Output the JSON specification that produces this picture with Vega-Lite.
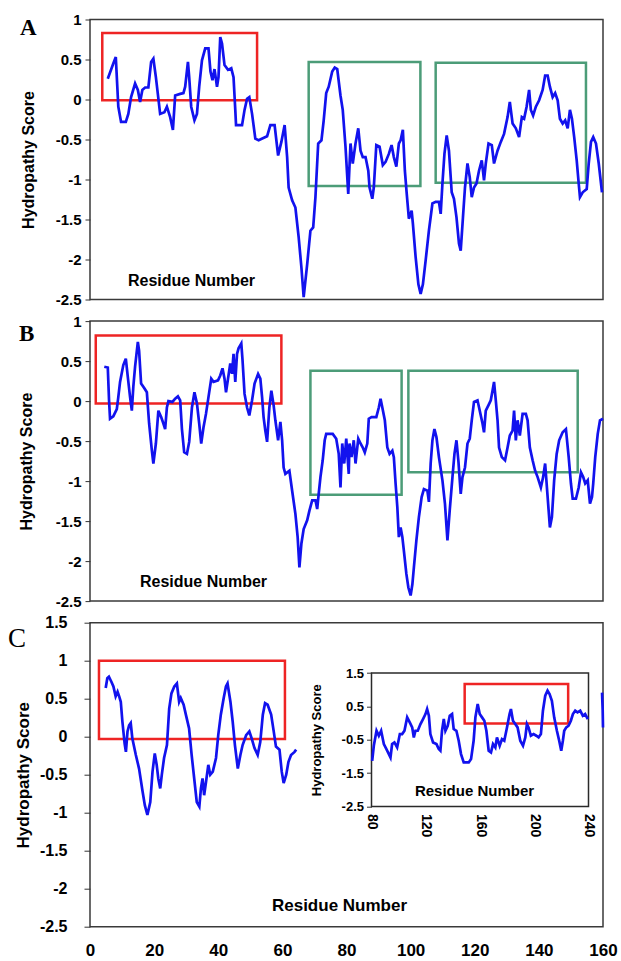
{
  "$schema": "https://vega.github.io/schema/vega-lite/v6.json",
  "autosize": {"type": "none"},
  "padding": {"left": 90, "top": 19.5, "right": 531, "bottom": 941.5},
  "background": "white",
  "config": {
    "font": "Liberation Sans",
    "view": {"stroke": "#3a3a3a", "strokeWidth": 1.5},
    "locale": {"number": {"decimal": ".", "thousands": ",", "grouping": [3], "currency": ["$", ""], "minus": "-"}},
    "axis": {"grid": false, "domain": false, "labelColor": "#000", "titleColor": "#000", "tickColor": "#333", "labelFlush": false, "labelOverlap": false}
  },
  "datasets": {
    "boxes": [
      {"p": "A", "k": "red", "r": 4.9, "r2": 66.7, "v": -0.01, "v2": 0.83},
      {"p": "A", "k": "green", "r": 87.3, "r2": 131.9, "v": -1.08, "v2": 0.47},
      {"p": "A", "k": "green", "r": 138.0, "r2": 198.0, "v": -1.04, "v2": 0.46},
      {"p": "B", "k": "red", "r": 2.3, "r2": 76.4, "v": -0.03, "v2": 0.82},
      {"p": "B", "k": "green", "r": 88.0, "r2": 124.4, "v": -1.17, "v2": 0.38},
      {"p": "B", "k": "green", "r": 127.1, "r2": 194.7, "v": -0.89, "v2": 0.38},
      {"p": "C", "k": "red", "r": 2.8, "r2": 60.8, "v": -0.03, "v2": 1.0},
      {"p": "Cin", "k": "red", "r": 148.7, "r2": 225.0, "v": -0.01, "v2": 1.17}
    ],
    "A": [
      {"r":7.1,"v":0.26},{"r":9.3,"v":0.45},{"r":10.3,"v":0.53},{"r":10.9,"v":0.16},{"r":11.3,"v":-0.09},{"r":12.4,"v":-0.28},{"r":14.3,"v":-0.28},{"r":15.3,"v":-0.18},{"r":16.4,"v":0.03},{"r":18.0,"v":0.20},{"r":19.1,"v":0.12},{"r":20.0,"v":-0.03},{"r":20.9,"v":0.12},{"r":22.0,"v":0.15},{"r":23.3,"v":0.15},{"r":24.4,"v":0.47},{"r":25.3,"v":0.51},{"r":26.3,"v":0.28},{"r":27.3,"v":0.01},{"r":28.0,"v":-0.18},{"r":29.7,"v":-0.16},{"r":30.7,"v":-0.09},{"r":32.0,"v":-0.22},{"r":33.1,"v":-0.38},{"r":34.0,"v":0.05},{"r":36.0,"v":0.07},{"r":37.3,"v":0.08},{"r":38.0,"v":0.16},{"r":39.1,"v":0.47},{"r":39.6,"v":0.28},{"r":40.4,"v":-0.09},{"r":41.7,"v":-0.26},{"r":42.7,"v":-0.18},{"r":43.6,"v":0.16},{"r":44.7,"v":0.49},{"r":46.0,"v":0.64},{"r":47.3,"v":0.64},{"r":48.1,"v":0.35},{"r":48.9,"v":0.24},{"r":49.7,"v":0.38},{"r":50.7,"v":0.16},{"r":51.3,"v":0.28},{"r":52.0,"v":0.78},{"r":52.7,"v":0.70},{"r":53.7,"v":0.43},{"r":55.1,"v":0.37},{"r":56.4,"v":0.39},{"r":57.3,"v":0.28},{"r":58.0,"v":-0.13},{"r":58.3,"v":-0.32},{"r":60.7,"v":-0.32},{"r":61.7,"v":-0.13},{"r":62.7,"v":0.01},{"r":63.6,"v":0.03},{"r":64.7,"v":-0.18},{"r":66.0,"v":-0.49},{"r":67.3,"v":-0.51},{"r":70.7,"v":-0.46},{"r":72.0,"v":-0.32},{"r":73.7,"v":-0.32},{"r":75.1,"v":-0.70},{"r":76.4,"v":-0.53},{"r":77.7,"v":-0.32},{"r":78.7,"v":-0.72},{"r":79.3,"v":-1.10},{"r":80.7,"v":-1.26},{"r":82.0,"v":-1.35},{"r":83.3,"v":-1.72},{"r":84.4,"v":-2.10},{"r":85.3,"v":-2.47},{"r":86.7,"v":-2.06},{"r":88.0,"v":-1.64},{"r":89.1,"v":-1.60},{"r":90.0,"v":-1.22},{"r":91.1,"v":-0.55},{"r":92.4,"v":-0.51},{"r":93.3,"v":-0.26},{"r":94.3,"v":0.08},{"r":95.3,"v":0.16},{"r":96.7,"v":0.35},{"r":97.7,"v":0.40},{"r":98.7,"v":0.38},{"r":100.0,"v":0.05},{"r":100.9,"v":-0.13},{"r":102.0,"v":-0.59},{"r":103.1,"v":-1.18},{"r":104.0,"v":-0.55},{"r":104.9,"v":-0.80},{"r":106.0,"v":-0.55},{"r":107.1,"v":-0.36},{"r":108.0,"v":-0.64},{"r":108.9,"v":-0.72},{"r":110.0,"v":-0.72},{"r":111.1,"v":-0.89},{"r":111.6,"v":-1.10},{"r":112.7,"v":-1.24},{"r":113.3,"v":-1.10},{"r":114.3,"v":-0.57},{"r":115.6,"v":-0.59},{"r":116.9,"v":-0.82},{"r":118.0,"v":-0.78},{"r":119.3,"v":-0.68},{"r":120.4,"v":-0.57},{"r":121.3,"v":-0.72},{"r":122.3,"v":-0.84},{"r":123.3,"v":-0.55},{"r":124.0,"v":-0.51},{"r":124.9,"v":-0.38},{"r":125.7,"v":-0.89},{"r":126.4,"v":-1.16},{"r":127.3,"v":-1.49},{"r":128.4,"v":-1.39},{"r":128.9,"v":-1.55},{"r":130.0,"v":-1.97},{"r":131.1,"v":-2.31},{"r":132.0,"v":-2.43},{"r":132.9,"v":-2.31},{"r":134.0,"v":-2.01},{"r":135.3,"v":-1.64},{"r":136.7,"v":-1.30},{"r":138.0,"v":-1.28},{"r":139.3,"v":-1.28},{"r":140.0,"v":-1.43},{"r":140.7,"v":-1.05},{"r":141.5,"v":-0.68},{"r":142.4,"v":-0.45},{"r":143.3,"v":-0.64},{"r":144.4,"v":-1.16},{"r":145.3,"v":-1.24},{"r":146.3,"v":-1.47},{"r":147.3,"v":-1.80},{"r":148.0,"v":-1.89},{"r":148.9,"v":-1.47},{"r":149.7,"v":-1.10},{"r":150.7,"v":-0.80},{"r":151.6,"v":-0.97},{"r":152.4,"v":-1.22},{"r":153.3,"v":-1.10},{"r":154.3,"v":-1.05},{"r":155.3,"v":-0.89},{"r":156.4,"v":-0.76},{"r":157.3,"v":-1.01},{"r":158.0,"v":-0.80},{"r":159.1,"v":-0.55},{"r":160.4,"v":-0.57},{"r":161.3,"v":-0.80},{"r":162.7,"v":-0.64},{"r":164.0,"v":-0.53},{"r":165.3,"v":-0.43},{"r":166.7,"v":-0.22},{"r":167.6,"v":-0.03},{"r":168.7,"v":-0.30},{"r":170.0,"v":-0.36},{"r":171.3,"v":-0.47},{"r":172.4,"v":-0.22},{"r":173.3,"v":-0.24},{"r":174.3,"v":-0.09},{"r":175.3,"v":0.12},{"r":176.0,"v":-0.13},{"r":176.9,"v":-0.20},{"r":178.0,"v":-0.09},{"r":179.3,"v":-0.01},{"r":180.7,"v":0.12},{"r":181.7,"v":0.30},{"r":182.7,"v":0.30},{"r":183.6,"v":0.16},{"r":184.7,"v":0.03},{"r":185.7,"v":0.08},{"r":186.7,"v":-0.01},{"r":187.6,"v":-0.24},{"r":188.7,"v":-0.30},{"r":189.7,"v":-0.26},{"r":190.7,"v":-0.36},{"r":191.6,"v":-0.13},{"r":192.4,"v":-0.24},{"r":193.3,"v":-0.47},{"r":194.3,"v":-0.76},{"r":195.1,"v":-1.05},{"r":195.6,"v":-1.22},{"r":196.7,"v":-1.16},{"r":198.3,"v":-1.12},{"r":199.1,"v":-0.80},{"r":200.0,"v":-0.53},{"r":200.9,"v":-0.47},{"r":202.0,"v":-0.55},{"r":203.1,"v":-0.80},{"r":204.4,"v":-1.16}
    ],
    "B": [
      {"r":5.7,"v":0.43},{"r":7.1,"v":0.42},{"r":7.6,"v":0.01},{"r":8.0,"v":-0.22},{"r":9.3,"v":-0.19},{"r":10.7,"v":-0.10},{"r":11.3,"v":0.05},{"r":12.0,"v":0.24},{"r":13.3,"v":0.45},{"r":14.3,"v":0.53},{"r":15.1,"v":0.30},{"r":16.0,"v":0.05},{"r":16.7,"v":-0.12},{"r":17.3,"v":0.18},{"r":18.0,"v":0.43},{"r":19.1,"v":0.74},{"r":19.6,"v":0.63},{"r":20.4,"v":0.22},{"r":21.7,"v":0.16},{"r":22.7,"v":0.11},{"r":23.6,"v":-0.28},{"r":24.7,"v":-0.62},{"r":25.3,"v":-0.78},{"r":26.3,"v":-0.53},{"r":27.3,"v":-0.12},{"r":28.4,"v":-0.20},{"r":29.3,"v":-0.28},{"r":30.0,"v":-0.35},{"r":30.7,"v":-0.08},{"r":31.3,"v":0.00},{"r":32.9,"v":-0.01},{"r":34.0,"v":0.03},{"r":35.1,"v":0.06},{"r":36.0,"v":0.01},{"r":36.7,"v":-0.35},{"r":37.6,"v":-0.64},{"r":38.7,"v":-0.66},{"r":39.6,"v":-0.51},{"r":40.7,"v":-0.08},{"r":41.7,"v":0.11},{"r":42.7,"v":-0.03},{"r":43.6,"v":-0.28},{"r":44.4,"v":-0.53},{"r":45.3,"v":-0.33},{"r":46.3,"v":-0.16},{"r":47.3,"v":0.05},{"r":48.4,"v":0.28},{"r":49.3,"v":0.24},{"r":51.1,"v":0.26},{"r":52.0,"v":0.32},{"r":52.9,"v":0.41},{"r":53.7,"v":0.28},{"r":54.3,"v":0.11},{"r":55.1,"v":0.28},{"r":56.0,"v":0.47},{"r":56.7,"v":0.34},{"r":57.3,"v":0.59},{"r":58.0,"v":0.24},{"r":58.7,"v":0.59},{"r":59.3,"v":0.66},{"r":60.4,"v":0.72},{"r":60.9,"v":0.51},{"r":61.7,"v":0.09},{"r":62.7,"v":-0.08},{"r":63.6,"v":-0.18},{"r":64.7,"v":0.01},{"r":65.7,"v":0.22},{"r":67.1,"v":0.34},{"r":68.0,"v":0.28},{"r":68.7,"v":0.05},{"r":69.3,"v":-0.20},{"r":70.0,"v":-0.37},{"r":70.7,"v":-0.51},{"r":71.6,"v":-0.08},{"r":72.4,"v":0.13},{"r":73.3,"v":-0.05},{"r":74.0,"v":-0.24},{"r":75.1,"v":-0.49},{"r":76.0,"v":-0.26},{"r":76.7,"v":-0.49},{"r":77.3,"v":-0.83},{"r":78.0,"v":-0.91},{"r":79.6,"v":-0.87},{"r":80.7,"v":-1.12},{"r":82.0,"v":-1.41},{"r":82.9,"v":-1.70},{"r":83.6,"v":-2.08},{"r":84.4,"v":-1.78},{"r":85.3,"v":-1.60},{"r":86.7,"v":-1.49},{"r":87.6,"v":-1.37},{"r":88.7,"v":-1.24},{"r":90.0,"v":-1.24},{"r":90.7,"v":-1.35},{"r":91.3,"v":-1.16},{"r":92.0,"v":-0.95},{"r":92.9,"v":-0.74},{"r":93.7,"v":-0.49},{"r":94.3,"v":-0.41},{"r":96.9,"v":-0.41},{"r":98.3,"v":-0.47},{"r":99.3,"v":-0.66},{"r":100.0,"v":-1.08},{"r":100.7,"v":-0.53},{"r":101.5,"v":-0.78},{"r":102.3,"v":-0.47},{"r":103.3,"v":-0.91},{"r":103.6,"v":-0.53},{"r":104.4,"v":-0.70},{"r":105.3,"v":-0.49},{"r":106.0,"v":-0.78},{"r":107.1,"v":-0.47},{"r":108.0,"v":-0.53},{"r":108.9,"v":-0.58},{"r":109.7,"v":-0.64},{"r":110.7,"v":-0.53},{"r":111.3,"v":-0.22},{"r":112.4,"v":-0.20},{"r":114.3,"v":-0.20},{"r":115.3,"v":-0.08},{"r":116.0,"v":0.03},{"r":116.7,"v":-0.08},{"r":117.7,"v":-0.24},{"r":118.7,"v":-0.58},{"r":119.6,"v":-0.66},{"r":120.7,"v":-0.62},{"r":121.3,"v":-0.70},{"r":122.0,"v":-1.03},{"r":122.7,"v":-1.33},{"r":123.3,"v":-1.70},{"r":124.0,"v":-1.58},{"r":124.7,"v":-1.70},{"r":125.3,"v":-1.87},{"r":126.3,"v":-2.16},{"r":127.1,"v":-2.33},{"r":128.0,"v":-2.43},{"r":128.7,"v":-2.29},{"r":129.3,"v":-2.08},{"r":130.3,"v":-1.74},{"r":131.3,"v":-1.45},{"r":132.4,"v":-1.20},{"r":133.3,"v":-1.10},{"r":134.7,"v":-1.12},{"r":135.3,"v":-1.26},{"r":136.0,"v":-0.78},{"r":136.7,"v":-0.49},{"r":137.5,"v":-0.35},{"r":138.3,"v":-0.45},{"r":139.3,"v":-0.70},{"r":140.7,"v":-0.99},{"r":141.7,"v":-1.28},{"r":142.7,"v":-1.74},{"r":143.6,"v":-1.37},{"r":144.7,"v":-0.95},{"r":145.5,"v":-0.66},{"r":146.3,"v":-0.49},{"r":147.1,"v":-0.76},{"r":148.0,"v":-1.16},{"r":148.7,"v":-0.95},{"r":149.7,"v":-0.83},{"r":150.7,"v":-0.53},{"r":151.6,"v":-0.47},{"r":152.4,"v":-0.24},{"r":153.3,"v":-0.01},{"r":154.7,"v":0.01},{"r":155.6,"v":-0.12},{"r":156.7,"v":-0.28},{"r":157.3,"v":-0.39},{"r":158.0,"v":-0.12},{"r":159.1,"v":-0.05},{"r":160.0,"v":0.01},{"r":160.7,"v":0.13},{"r":161.3,"v":0.24},{"r":162.0,"v":0.01},{"r":162.7,"v":-0.24},{"r":163.3,"v":-0.58},{"r":164.4,"v":-0.70},{"r":165.7,"v":-0.74},{"r":166.7,"v":-0.58},{"r":167.6,"v":-0.43},{"r":168.7,"v":-0.37},{"r":169.3,"v":-0.12},{"r":170.0,"v":-0.49},{"r":170.7,"v":-0.24},{"r":171.6,"v":-0.43},{"r":172.7,"v":-0.16},{"r":174.0,"v":-0.16},{"r":174.7,"v":-0.24},{"r":175.6,"v":-0.58},{"r":176.7,"v":-0.74},{"r":177.7,"v":-0.87},{"r":178.7,"v":-0.95},{"r":180.0,"v":-1.08},{"r":180.9,"v":-0.95},{"r":181.7,"v":-0.78},{"r":182.7,"v":-1.20},{"r":183.6,"v":-1.58},{"r":184.4,"v":-1.45},{"r":185.3,"v":-0.99},{"r":186.3,"v":-0.66},{"r":187.3,"v":-0.49},{"r":188.7,"v":-0.39},{"r":190.0,"v":-0.35},{"r":191.1,"v":-0.70},{"r":192.0,"v":-1.03},{"r":192.7,"v":-1.22},{"r":194.0,"v":-1.22},{"r":195.1,"v":-1.08},{"r":196.0,"v":-0.89},{"r":196.9,"v":-0.95},{"r":197.7,"v":-1.03},{"r":198.7,"v":-0.99},{"r":199.6,"v":-1.28},{"r":200.4,"v":-1.20},{"r":200.9,"v":-1.03},{"r":201.7,"v":-0.70},{"r":202.7,"v":-0.41},{"r":203.6,"v":-0.24},{"r":204.8,"v":-0.22}
    ],
    "C": [
      {"r":4.9,"v":0.64},{"r":5.4,"v":0.77},{"r":5.9,"v":0.79},{"r":6.7,"v":0.72},{"r":7.3,"v":0.66},{"r":8.0,"v":0.53},{"r":8.6,"v":0.59},{"r":9.1,"v":0.53},{"r":9.6,"v":0.46},{"r":10.1,"v":0.20},{"r":10.8,"v":-0.09},{"r":11.2,"v":-0.20},{"r":11.7,"v":0.07},{"r":12.2,"v":0.15},{"r":12.7,"v":0.18},{"r":13.2,"v":-0.02},{"r":14.3,"v":-0.24},{"r":15.3,"v":-0.42},{"r":16.4,"v":-0.72},{"r":17.1,"v":-0.90},{"r":17.9,"v":-1.03},{"r":18.8,"v":-0.86},{"r":19.5,"v":-0.46},{"r":20.2,"v":-0.22},{"r":20.8,"v":-0.37},{"r":21.3,"v":-0.55},{"r":21.9,"v":-0.68},{"r":22.4,"v":-0.50},{"r":23.1,"v":-0.28},{"r":24.0,"v":-0.11},{"r":24.7,"v":0.37},{"r":25.4,"v":0.57},{"r":26.3,"v":0.66},{"r":27.1,"v":0.70},{"r":27.8,"v":0.46},{"r":28.3,"v":0.51},{"r":29.2,"v":0.42},{"r":29.9,"v":0.29},{"r":30.9,"v":0.11},{"r":31.7,"v":-0.24},{"r":32.5,"v":-0.55},{"r":33.3,"v":-0.86},{"r":34.1,"v":-0.92},{"r":34.6,"v":-0.68},{"r":35.1,"v":-0.55},{"r":35.6,"v":-0.77},{"r":36.2,"v":-0.59},{"r":36.9,"v":-0.37},{"r":37.5,"v":-0.50},{"r":38.3,"v":-0.46},{"r":39.3,"v":-0.28},{"r":40.0,"v":0.02},{"r":40.8,"v":0.29},{"r":41.7,"v":0.51},{"r":42.4,"v":0.66},{"r":42.9,"v":0.70},{"r":43.8,"v":0.46},{"r":44.5,"v":0.20},{"r":45.2,"v":-0.11},{"r":46.1,"v":-0.42},{"r":46.9,"v":-0.24},{"r":47.6,"v":-0.11},{"r":48.7,"v":0.02},{"r":49.7,"v":0.07},{"r":50.4,"v":-0.02},{"r":51.3,"v":-0.15},{"r":52.3,"v":-0.24},{"r":53.1,"v":-0.07},{"r":53.9,"v":0.29},{"r":54.6,"v":0.44},{"r":55.4,"v":0.42},{"r":56.5,"v":0.29},{"r":57.3,"v":0.07},{"r":58.0,"v":-0.13},{"r":59.1,"v":-0.17},{"r":59.8,"v":-0.46},{"r":60.4,"v":-0.61},{"r":61.2,"v":-0.50},{"r":61.9,"v":-0.33},{"r":62.7,"v":-0.24},{"r":63.8,"v":-0.20},{"r":64.3,"v":-0.17}
    ],
    "Cedge": [{"r":159.7,"v":0.58},{"r":159.9,"v":0.35},{"r":160.0,"v":0.12}],
    "Cin": [
      {"r":80.5,"v":-1.13},{"r":81.7,"v":-0.68},{"r":83.7,"v":-0.23},{"r":85.4,"v":-0.38},{"r":87.1,"v":-0.23},{"r":89.1,"v":-0.63},{"r":91.0,"v":-0.78},{"r":92.8,"v":-0.93},{"r":94.0,"v":-1.03},{"r":95.2,"v":-0.63},{"r":96.9,"v":-0.58},{"r":98.9,"v":-0.73},{"r":100.9,"v":-0.33},{"r":102.6,"v":-0.33},{"r":104.3,"v":-0.23},{"r":106.3,"v":0.17},{"r":108.2,"v":0.02},{"r":110.0,"v":-0.13},{"r":111.2,"v":-0.43},{"r":112.4,"v":-0.23},{"r":114.1,"v":-0.23},{"r":116.1,"v":-0.03},{"r":118.0,"v":0.12},{"r":119.8,"v":0.27},{"r":121.0,"v":0.42},{"r":122.3,"v":0.22},{"r":123.4,"v":-0.33},{"r":125.4,"v":-0.58},{"r":127.9,"v":-0.63},{"r":129.6,"v":-0.78},{"r":130.8,"v":-0.83},{"r":132.0,"v":-0.23},{"r":133.3,"v":0.12},{"r":134.5,"v":-0.23},{"r":136.2,"v":-0.08},{"r":137.7,"v":0.22},{"r":139.4,"v":0.27},{"r":140.6,"v":-0.18},{"r":142.6,"v":-0.23},{"r":144.3,"v":-0.53},{"r":146.0,"v":-0.93},{"r":148.0,"v":-1.18},{"r":151.7,"v":-1.18},{"r":153.4,"v":-1.08},{"r":155.3,"v":-0.53},{"r":156.6,"v":0.17},{"r":158.3,"v":0.57},{"r":159.8,"v":0.27},{"r":161.5,"v":0.17},{"r":163.2,"v":0.07},{"r":164.7,"v":-0.23},{"r":166.4,"v":-0.83},{"r":168.1,"v":-0.88},{"r":169.6,"v":-0.63},{"r":171.3,"v":-0.73},{"r":172.5,"v":-0.43},{"r":174.5,"v":-0.68},{"r":176.2,"v":-0.48},{"r":177.9,"v":-0.53},{"r":179.9,"v":-0.13},{"r":181.8,"v":0.27},{"r":182.8,"v":0.42},{"r":184.3,"v":0.07},{"r":186.0,"v":-0.03},{"r":187.7,"v":-0.13},{"r":189.7,"v":-0.53},{"r":191.7,"v":-0.68},{"r":193.4,"v":-0.43},{"r":194.6,"v":-0.03},{"r":195.8,"v":-0.13},{"r":197.5,"v":-0.38},{"r":199.5,"v":-0.33},{"r":201.5,"v":-0.38},{"r":203.2,"v":-0.43},{"r":204.9,"v":-0.33},{"r":206.4,"v":0.37},{"r":208.1,"v":0.82},{"r":209.8,"v":0.97},{"r":211.3,"v":0.87},{"r":213.0,"v":0.67},{"r":214.7,"v":0.17},{"r":216.7,"v":-0.23},{"r":218.4,"v":-0.53},{"r":219.9,"v":-0.83},{"r":221.1,"v":-0.53},{"r":222.1,"v":-0.23},{"r":223.6,"v":-0.13},{"r":225.3,"v":-0.08},{"r":227.0,"v":0.07},{"r":228.5,"v":0.27},{"r":230.2,"v":0.37},{"r":231.9,"v":0.32},{"r":233.9,"v":0.37},{"r":235.8,"v":0.22},{"r":237.5,"v":0.27},{"r":239.5,"v":0.12}
    ]
  },
  "bounds": "flush",
  "spacing": 21.6,
  "vconcat": [
    {
      "width": 513,
      "height": 280,
      "title": {"text": "A", "anchor": "start", "frame": "group", "orient": "top", "offset": 0, "dx": -70, "dy": 45, "baseline": "alphabetic", "font": "Liberation Serif", "fontSize": 23, "fontWeight": "bold", "color": "#000"},
      "encoding": {
        "x": {"field": "r", "type": "quantitative", "scale": {"domain": [0, 204.8], "nice": false, "zero": false},
          "axis": {"title": "Residue Number", "labels": false, "ticks": false, "titleX": 101, "titleY": -19, "titleAlign": "center", "titleBaseline": "middle", "titleFontSize": 16, "titleFontWeight": "bold"}},
        "y": {"field": "v", "type": "quantitative", "scale": {"domain": [-2.5, 1], "nice": false, "zero": false},
          "axis": {"title": "Hydropathy Score", "values": [-2.5, -2, -1.5, -1, -0.5, 0, 0.5, 1], "format": ".2~g", "tickSize": 5, "labelPadding": 4, "labelFontSize": 15, "labelFontWeight": "bold", "titleFontSize": 16, "titleFontWeight": "bold", "titleX": -62, "titleBaseline": "middle"}}
      },
      "layer": [
        {"data": {"name": "boxes"}, "transform": [{"filter": "datum.p == 'A'"}],
          "mark": {"type": "rect", "filled": false, "strokeWidth": 2.5},
          "encoding": {"x2": {"field": "r2"}, "y2": {"field": "v2"},
            "color": {"field": "k", "type": "nominal", "scale": {"domain": ["red", "green"], "range": ["#ee2424", "#4c9c78"]}, "legend": null}}},
        {"data": {"name": "A"}, "mark": {"type": "line", "color": "#1212ee", "strokeWidth": 2.7}}
      ]
    },
    {
      "width": 513,
      "height": 280,
      "title": {"text": "B", "anchor": "start", "frame": "group", "orient": "top", "offset": 0, "dx": -71, "dy": 50, "baseline": "alphabetic", "font": "Liberation Serif", "fontSize": 23, "fontWeight": "bold", "color": "#000"},
      "encoding": {
        "x": {"field": "r", "type": "quantitative", "scale": {"domain": [0, 204.8], "nice": false, "zero": false},
          "axis": {"title": "Residue Number", "labels": false, "ticks": false, "titleX": 113, "titleY": -20, "titleAlign": "center", "titleBaseline": "middle", "titleFontSize": 16, "titleFontWeight": "bold"}},
        "y": {"field": "v", "type": "quantitative", "scale": {"domain": [-2.5, 1], "nice": false, "zero": false},
          "axis": {"title": "Hydropathy Score", "values": [-2.5, -2, -1.5, -1, -0.5, 0, 0.5, 1], "format": ".2~g", "tickSize": 5, "labelPadding": 4, "labelFontSize": 15, "labelFontWeight": "bold", "titleFontSize": 16, "titleFontWeight": "bold", "titleX": -64, "titleBaseline": "middle"}}
      },
      "layer": [
        {"data": {"name": "boxes"}, "transform": [{"filter": "datum.p == 'B'"}],
          "mark": {"type": "rect", "filled": false, "strokeWidth": 2.5},
          "encoding": {"x2": {"field": "r2"}, "y2": {"field": "v2"},
            "color": {"field": "k", "type": "nominal", "scale": {"domain": ["red", "green"], "range": ["#ee2424", "#4c9c78"]}, "legend": null}}},
        {"data": {"name": "B"}, "mark": {"type": "line", "color": "#1212ee", "strokeWidth": 2.7}}
      ]
    },
    {
      "width": 513,
      "height": 304,
      "title": {"text": "C", "anchor": "start", "frame": "group", "orient": "top", "offset": 0, "dx": -82, "dy": 59, "baseline": "alphabetic", "font": "Liberation Serif", "fontSize": 27, "fontWeight": "normal", "color": "#000"},
      "layer": [
        {
          "encoding": {
            "x": {"field": "r", "type": "quantitative", "scale": {"domain": [0, 160], "nice": false, "zero": false},
              "axis": {"orient": "bottom", "title": "Residue Number", "values": [0, 20, 40, 60, 80, 100, 120, 140, 160], "ticks": false, "labelPadding": 16, "labelFontSize": 17, "labelFontWeight": "bold", "titleX": 249, "titleY": -21, "titleAlign": "center", "titleBaseline": "middle", "titleFontSize": 17, "titleFontWeight": "bold"}},
            "y": {"field": "v", "type": "quantitative", "scale": {"domain": [-2.5, 1.5], "nice": false, "zero": false},
              "axis": {"orient": "left", "title": "Hydropathy Score", "values": [-2.5, -2, -1.5, -1, -0.5, 0, 0.5, 1, 1.5], "format": ".2~g", "tickSize": 6, "labelPadding": 17, "labelFontSize": 16, "labelFontWeight": "bold", "titleFontSize": 17, "titleFontWeight": "bold", "titleX": -67, "titleBaseline": "middle"}}
          },
          "layer": [
            {"data": {"name": "boxes"}, "transform": [{"filter": "datum.p == 'C'"}],
              "mark": {"type": "rect", "filled": false, "strokeWidth": 2.5, "color": "#ee2424"},
              "encoding": {"x2": {"field": "r2"}, "y2": {"field": "v2"}}},
            {"data": {"name": "C"}, "mark": {"type": "line", "color": "#1212ee", "strokeWidth": 2.7}},
            {"data": {"name": "Cedge"}, "mark": {"type": "line", "color": "#1212ee", "strokeWidth": 2.7}}
          ]
        },
        {
          "encoding": {
            "x": {"field": "r", "type": "quantitative", "scale": {"domain": [80, 240], "range": [281.5, 498.5], "nice": false, "zero": false},
              "axis": {"orient": "bottom", "offset": -120.2, "title": "Residue Number", "values": [80, 120, 160, 200, 240], "ticks": false, "labelAngle": 90, "labelAlign": "left", "labelBaseline": "middle", "labelPadding": 7, "labelFontSize": 14, "labelFontWeight": "bold", "titleX": 384, "titleY": -16.5, "titleAlign": "center", "titleBaseline": "middle", "titleFontSize": 15, "titleFontWeight": "bold"}},
            "y": {"field": "v", "type": "quantitative", "scale": {"domain": [-2.5, 1.5], "range": [183.8, 50.3], "nice": false, "zero": false},
              "axis": {"orient": "left", "offset": -281.5, "title": "Hydropathy Score", "values": [-2.5, -1.5, -0.5, 0.5, 1.5], "format": ".2~g", "tickSize": 5, "labelPadding": 3, "labelFontSize": 13, "labelFontWeight": "bold", "titleFontSize": 13, "titleFontWeight": "bold", "titleX": -55, "titleBaseline": "middle"}}
          },
          "layer": [
            {"data": {"values": [{"r": 80, "r2": 240, "v": -2.5, "v2": 1.5}]},
              "mark": {"type": "rect", "filled": false, "strokeWidth": 1.5, "color": "#2a2a2a"},
              "encoding": {"x2": {"field": "r2"}, "y2": {"field": "v2"}}},
            {"data": {"name": "boxes"}, "transform": [{"filter": "datum.p == 'Cin'"}],
              "mark": {"type": "rect", "filled": false, "strokeWidth": 2.5, "color": "#ee2424"},
              "encoding": {"x2": {"field": "r2"}, "y2": {"field": "v2"}}},
            {"data": {"name": "Cin"}, "mark": {"type": "line", "color": "#1212ee", "strokeWidth": 2.7}}
          ]
        }
      ],
      "resolve": {"scale": {"x": "independent", "y": "independent"}, "axis": {"x": "independent", "y": "independent"}}
    }
  ]
}
